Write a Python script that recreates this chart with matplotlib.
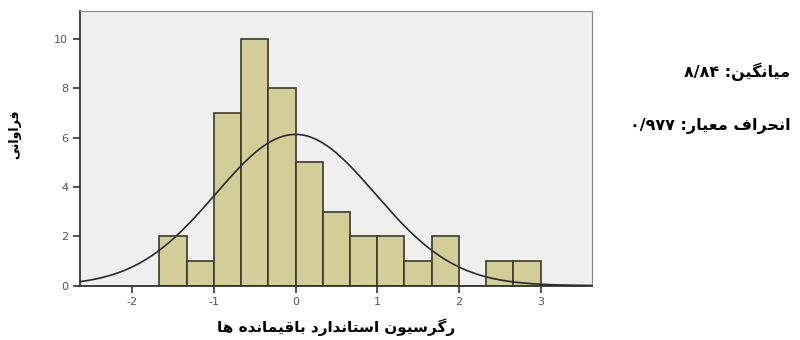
import numpy as np
import matplotlib
matplotlib.use('Agg')
import matplotlib.pyplot as plt

# histogram data (standardized residuals), bins of width 1/3
bin_edges = [-5/3, -4/3, -1, -2/3, -1/3, 0, 1/3, 2/3, 1, 4/3, 5/3, 2, 7/3, 8/3, 3]
counts = [2, 1, 7, 10, 8, 5, 3, 2, 2, 1, 2, 0, 1, 1]
curve_mean = 0.0
curve_sd = 0.977
x_ticks = [-2, -1, 0, 1, 2, 3]
y_ticks = [0, 2, 4, 6, 8, 10]

x_label = 'رگرسیون استاندارد باقیمانده ها'
y_label = 'فراوانی'
mean_word = 'میانگین'
mean_value = '۸/۸۴'
sd_word = 'انحراف معیار'
sd_value = '۰/۹۷۷'

# presentation forms: isolated, final, initial, medial
FORMS = {
    'ا': ('\uFE8D', '\uFE8E', None, None),
    'ب': ('\uFE8F', '\uFE90', '\uFE91', '\uFE92'),
    'ت': ('\uFE95', '\uFE96', '\uFE97', '\uFE98'),
    'ح': ('\uFEA1', '\uFEA2', '\uFEA3', '\uFEA4'),
    'د': ('\uFEA9', '\uFEAA', None, None),
    'ر': ('\uFEAD', '\uFEAE', None, None),
    'س': ('\uFEB1', '\uFEB2', '\uFEB3', '\uFEB4'),
    'ع': ('\uFEC9', '\uFECA', '\uFECB', '\uFECC'),
    'ف': ('\uFED1', '\uFED2', '\uFED3', '\uFED4'),
    'ق': ('\uFED5', '\uFED6', '\uFED7', '\uFED8'),
    'م': ('\uFEE1', '\uFEE2', '\uFEE3', '\uFEE4'),
    'ن': ('\uFEE5', '\uFEE6', '\uFEE7', '\uFEE8'),
    'ه': ('\uFEE9', '\uFEEA', '\uFEEB', '\uFEEC'),
    'و': ('\uFEED', '\uFEEE', None, None),
    'گ': ('\uFB92', '\uFB93', '\uFB94', '\uFB95'),
    'ی': ('\uFBFC', '\uFBFD', '\uFBFE', '\uFBFF'),
}


def joins_left(c):
    return c in FORMS and FORMS[c][2] is not None


def rtl(text):
    # shape the letters and reverse them for left-to-right drawing
    out = []
    for i, c in enumerate(text):
        if c not in FORMS:
            out.append(c)
            continue
        prev = text[i - 1] if i > 0 else ''
        nxt = text[i + 1] if i + 1 < len(text) else ''
        a = joins_left(prev)
        b = joins_left(c) and nxt in FORMS
        iso, fin, ini, med = FORMS[c]
        if a and b:
            out.append(med)
        elif a:
            out.append(fin)
        elif b:
            out.append(ini)
        else:
            out.append(iso)
    return ''.join(reversed(out))


plt.rcParams['font.family'] = ['DejaVu Sans']
plt.rcParams['axes.unicode_minus'] = False

fig = plt.figure(figsize=(8, 3.4), dpi=100)
ax = fig.add_axes([0.1, 0.16, 0.64, 0.808])
ax.set_facecolor('#efefef')

widths = np.diff(bin_edges)
ax.bar(bin_edges[:-1], counts, width=widths, align='edge',
       color='#d3cd98', edgecolor='#3a3a2a', linewidth=1.2, zorder=2)

xs = np.linspace(-2.64, 3.63, 400)
n = sum(counts)
bw = bin_edges[1] - bin_edges[0]
ys = n * bw / (np.sqrt(2 * np.pi) * curve_sd) * np.exp(-0.5 * ((xs - curve_mean) / curve_sd) ** 2)
ax.plot(xs, ys, color='#2a2a2a', linewidth=1.2, zorder=3)

ax.set_xlim(-2.637, 3.628)
ax.set_ylim(0, 11.13)
ax.set_xticks(x_ticks)
ax.set_yticks(y_ticks)
ax.tick_params(direction='out', length=5, width=1.2, color='#333333',
               labelsize=8, labelcolor='#555555')
for s in ax.spines.values():
    s.set_color('#888888')
ax.spines['bottom'].set_color('#333333')
ax.spines['left'].set_color('#333333')
ax.spines['bottom'].set_linewidth(1.3)
ax.spines['left'].set_linewidth(1.3)

ax.set_xlabel(rtl(x_label), fontsize=11, fontweight='bold', labelpad=8)
ax.set_ylabel(rtl(y_label), fontsize=9, fontweight='bold')
ax.yaxis.set_label_coords(-0.115, 0.55)

fig.text(0.988, 0.79, mean_value + ' :' + rtl(mean_word), ha='right', va='center',
         fontsize=11.5, fontweight='bold')
fig.text(0.988, 0.63, sd_value + ' :' + rtl(sd_word), ha='right', va='center',
         fontsize=11.5, fontweight='bold')

fig.savefig('out.png', dpi=100)
